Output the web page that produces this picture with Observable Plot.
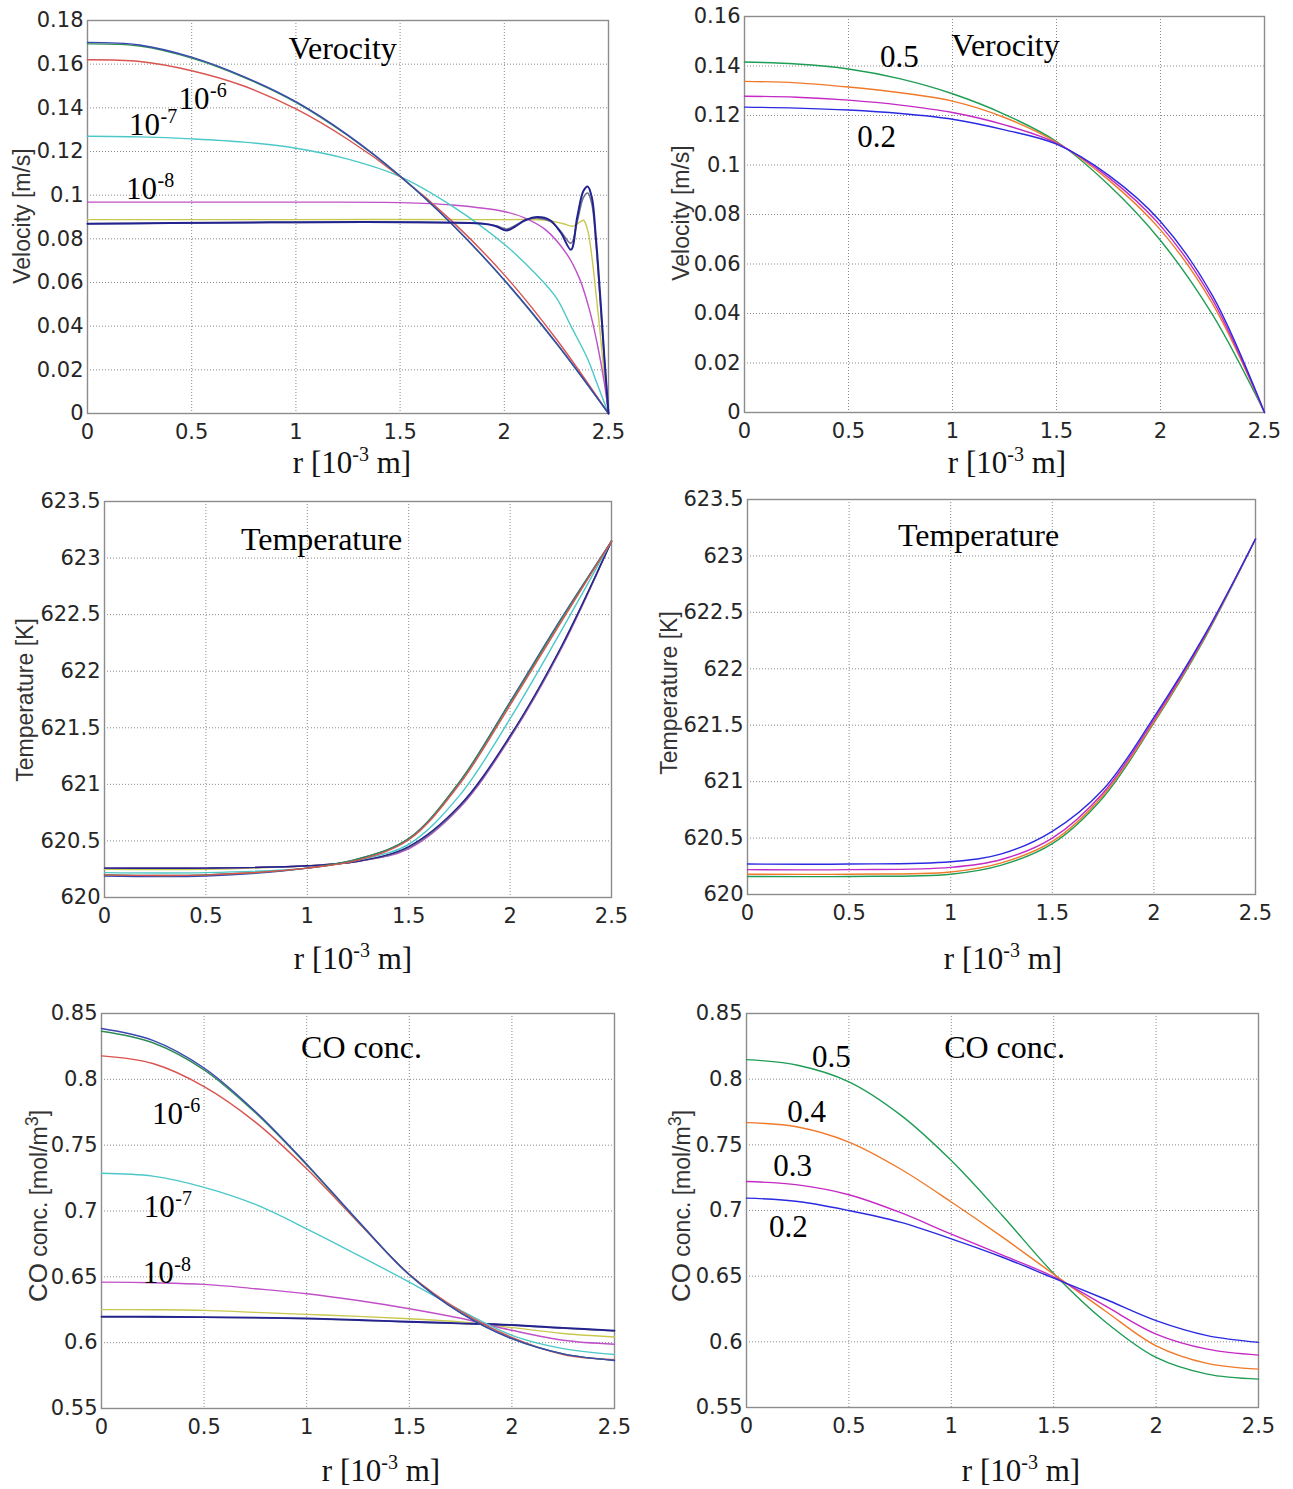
<!DOCTYPE html>
<html>
<head>
<meta charset="utf-8">
<script src="https://cdn.jsdelivr.net/npm/d3@7"></script>
<script src="https://cdn.jsdelivr.net/npm/@observablehq/plot@0.6"></script>
<style>
  body { margin: 0; background: #fff; }
  #root { position: relative; width: 1293px; height: 1489px; overflow: hidden; background: #fff; }
  .xl { position: absolute; font-family: "Liberation Serif", "Times New Roman", serif; font-size: 31px; color: #111;
        transform: translate(-50%, -50%); white-space: nowrap; line-height: 1; }
  .xl sup { font-size: 20px; vertical-align: 0; position: relative; top: -12px; }
  .yl { position: absolute; font-family: "Liberation Sans", Arial, sans-serif; font-size: 23px; color: #333;
        transform: translate(-50%, -50%) rotate(-90deg); white-space: nowrap; line-height: 1; }
  .yl sup { font-size: 18px; vertical-align: 0; position: relative; top: -9px; }
</style>
</head>
<body>
<div id="root"></div>
<script>
// ---------- axis ticks ----------
const xTicks = [0, 0.5, 1, 1.5, 2, 2.5];
const velTicksA = [0, 0.02, 0.04, 0.06, 0.08, 0.1, 0.12, 0.14, 0.16, 0.18];
const velTicksB = [0, 0.02, 0.04, 0.06, 0.08, 0.1, 0.12, 0.14, 0.16];
const tempTicks = [620, 620.5, 621, 621.5, 622, 622.5, 623, 623.5];
const coTicks = [0.55, 0.6, 0.65, 0.7, 0.75, 0.8, 0.85];

// ---------- velocity, permeability series (left) [r, v] ----------
const velA_blue = [[0,0.1700],[0.25,0.1688],[0.5,0.1632],[0.75,0.1543],[1,0.1428],[1.25,0.1275],[1.5,0.1088],[1.75,0.0867],[2,0.0612],[2.25,0.0323],[2.5,0]];
const velA_green = [[0,0.1693],[0.25,0.1683],[0.5,0.1628],[0.75,0.1540],[1,0.1425],[1.25,0.1272],[1.5,0.1087],[1.75,0.0866],[2,0.0610],[2.25,0.0320],[2.5,0]];
const velA_red = [[0,0.1620],[0.25,0.1612],[0.5,0.1570],[0.75,0.1500],[1,0.1395],[1.25,0.1255],[1.5,0.1085],[1.75,0.0880],[2,0.0635],[2.25,0.0340],[2.5,0]];
const velA_cyan = [[0,0.1270],[0.25,0.1267],[0.5,0.1258],[0.75,0.1243],[1,0.1215],[1.25,0.1165],[1.5,0.1085],[1.75,0.0950],[2,0.0775],[2.15,0.0640],[2.25,0.0530],[2.32,0.0400],[2.4,0.0250],[2.44,0.0150],[2.5,0]];
const velA_magenta = [[0,0.0968],[0.5,0.0968],[1,0.0968],[1.5,0.0966],[1.75,0.0955],[2,0.0925],[2.1,0.0895],[2.2,0.0840],[2.3,0.0730],[2.36,0.0620],[2.41,0.0470],[2.45,0.0300],[2.48,0.0140],[2.5,0]];
const velA_yellow = [[0,0.0888],[1,0.0888],[2,0.0888],[2.2,0.0886],[2.28,0.0870],[2.33,0.0858],[2.36,0.0875],[2.38,0.0885],[2.4,0.0840],[2.42,0.0720],[2.44,0.0550],[2.46,0.0370],[2.48,0.0170],[2.5,0]];
const velA_black = [[0,0.0869],[1.9,0.0869],[1.96,0.0860],[2.01,0.0845],[2.05,0.0860],[2.1,0.0885],[2.16,0.0895],[2.22,0.0880],[2.27,0.0835],[2.32,0.0780],[2.35,0.0880],[2.38,0.0990],[2.4,0.1010],[2.42,0.0960],[2.44,0.0780],[2.46,0.0520],[2.48,0.0250],[2.5,0]];
const velA_navy = [[0,0.0869],[1.9,0.0869],[1.96,0.0858],[2.01,0.0838],[2.05,0.0855],[2.1,0.0885],[2.16,0.0900],[2.22,0.0885],[2.27,0.0830],[2.32,0.0750],[2.35,0.0900],[2.38,0.1020],[2.4,0.1040],[2.42,0.0990],[2.44,0.0800],[2.46,0.0540],[2.48,0.0260],[2.5,0]];

// ---------- velocity, porosity series (right) [r, v] ----------
const velB_green = [[0,0.1416],[0.25,0.1408],[0.5,0.1388],[0.75,0.1348],[1,0.1288],[1.25,0.1205],[1.5,0.1095],[1.75,0.0920],[2,0.0695],[2.25,0.0395],[2.5,0]];
const velB_orange = [[0,0.1338],[0.25,0.1332],[0.5,0.1315],[0.75,0.1292],[1,0.1258],[1.25,0.1192],[1.5,0.1092],[1.75,0.0940],[2,0.0738],[2.25,0.0440],[2.5,0]];
const velB_magenta = [[0,0.1278],[0.25,0.1274],[0.5,0.1262],[0.75,0.1242],[1,0.1212],[1.25,0.1162],[1.5,0.1088],[1.75,0.0950],[2,0.0755],[2.25,0.0456],[2.5,0]];
const velB_blue = [[0,0.1234],[0.25,0.1230],[0.5,0.1222],[0.75,0.1208],[1,0.1185],[1.25,0.1142],[1.5,0.1084],[1.75,0.0959],[2,0.0772],[2.25,0.0472],[2.5,0]];

// ---------- temperature ----------
const rTemp = [0, 0.5, 1.0, 1.25, 1.5, 1.75, 2.0, 2.25, 2.5];
const tempA_blue    = [620.19, 620.19, 620.26, 620.34, 620.52, 621.02, 621.73, 622.46, 623.15];
const tempA_green   = [620.20, 620.20, 620.26, 620.34, 620.52, 621.02, 621.72, 622.45, 623.15];
const tempA_red     = [620.20, 620.20, 620.26, 620.33, 620.51, 621.00, 621.70, 622.43, 623.15];
const tempA_cyan    = [620.22, 620.22, 620.26, 620.33, 620.47, 620.90, 621.58, 622.35, 623.15];
const tempA_magenta = [620.26, 620.26, 620.28, 620.32, 620.43, 620.79, 621.41, 622.19, 623.15];
const tempA_yellow  = [620.25, 620.25, 620.28, 620.32, 620.44, 620.80, 621.42, 622.20, 623.15];
const tempA_black   = [620.26, 620.26, 620.28, 620.32, 620.44, 620.80, 621.42, 622.20, 623.15];
const tempA_navy    = [620.26, 620.26, 620.28, 620.32, 620.45, 620.81, 621.43, 622.21, 623.15];
const tempB_blue    = [620.27, 620.27, 620.29, 620.36, 620.56, 620.93, 621.57, 622.30, 623.15];
const tempB_magenta = [620.22, 620.22, 620.24, 620.31, 620.50, 620.90, 621.55, 622.29, 623.15];
const tempB_orange  = [620.18, 620.18, 620.20, 620.28, 620.47, 620.88, 621.53, 622.28, 623.15];
const tempB_green   = [620.16, 620.16, 620.18, 620.26, 620.45, 620.86, 621.52, 622.27, 623.15];

// ---------- CO concentration ----------
const rCO = [0, 0.25, 0.5, 0.75, 1.0, 1.25, 1.5, 1.75, 2.0, 2.25, 2.5];
const coA_blue    = [0.8386, 0.8296, 0.8086, 0.7756, 0.7356, 0.6926, 0.6516, 0.6226, 0.603, 0.5915, 0.5865];
const coA_green   = [0.8365, 0.8278, 0.8072, 0.7746, 0.7350, 0.6922, 0.6516, 0.6226, 0.603, 0.5915, 0.5865];
const coA_red     = [0.8178, 0.8120, 0.7945, 0.7675, 0.7320, 0.6915, 0.6520, 0.624, 0.604, 0.591, 0.587];
const coA_cyan    = [0.7287, 0.7265, 0.718, 0.705, 0.6865, 0.6665, 0.646, 0.6245, 0.6056, 0.5955, 0.591];
const coA_magenta = [0.646, 0.6455, 0.6443, 0.641, 0.6372, 0.632, 0.6258, 0.6185, 0.6094, 0.6018, 0.5988];
const coA_yellow  = [0.6251, 0.625, 0.6245, 0.623, 0.6215, 0.620, 0.6182, 0.6158, 0.6114, 0.607, 0.6043];
const coA_black   = [0.6195, 0.6195, 0.6192, 0.6188, 0.6182, 0.617, 0.6157, 0.6145, 0.6132, 0.611, 0.6089];
const coA_navy    = [0.6198, 0.6197, 0.6194, 0.6190, 0.6184, 0.6172, 0.6159, 0.6147, 0.6134, 0.6112, 0.6092];
const coB_green   = [0.8149, 0.8106, 0.798, 0.773, 0.738, 0.696, 0.652, 0.6155, 0.5881, 0.5754, 0.5716];
const coB_orange  = [0.7669, 0.7636, 0.7521, 0.7318, 0.7065, 0.6797, 0.6515, 0.6237, 0.597, 0.5836, 0.5792];
const coB_magenta = [0.7221, 0.7195, 0.712, 0.6985, 0.682, 0.666, 0.6495, 0.6275, 0.6059, 0.5944, 0.5899];
const coB_blue    = [0.7094, 0.7069, 0.700, 0.6911, 0.6784, 0.6644, 0.6485, 0.6326, 0.6161, 0.6047, 0.5996];

// ---------- annotation texts (anchored in data units) ----------
const notesVelA = [{x: 0.511, y: 0.1438, base: "10", sup: "-6"}, {x: 0.274, y: 0.1319, base: "10", sup: "-7"}, {x: 0.259, y: 0.1026, base: "10", sup: "-8"}];
const notesVelB = [{x: 0.745, y: 0.1438, base: "0.5"}, {x: 0.635, y: 0.1111, base: "0.2"}];
const notesCoA = [{x: 0.3216, y: 0.7733, base: "10", sup: "-6"}, {x: 0.282, y: 0.7027, base: "10", sup: "-7"}, {x: 0.277, y: 0.6525, base: "10", sup: "-8"}];
const notesCoB = [{x: 0.415, y: 0.8165, base: "0.5"}, {x: 0.293, y: 0.7746, base: "0.4"}, {x: 0.225, y: 0.7335, base: "0.3"}, {x: 0.205, y: 0.687, base: "0.2"}];
const titleVelA = [{x: 1.224, y: 0.167, text: "Verocity"}];
const titleVelB = [{x: 1.255, y: 0.1483, text: "Verocity"}];
const titleTempA = [{x: 1.07, y: 623.165, text: "Temperature"}];
const titleTempB = [{x: 1.137, y: 623.18, text: "Temperature"}];
const titleCoA = [{x: 1.267, y: 0.8242, text: "CO conc."}];
const titleCoB = [{x: 1.26, y: 0.824, text: "CO conc."}];

// ---------- colours ----------
const colLeft = {blue: "#3a48b0", green: "#2e8b57", red: "#d9534f", cyan: "#4cc8c8", magenta: "#c050c8", yellow: "#c8c850", black: "#707090", navy: "#23238f"};
const colRight = {green: "#1f9d55", orange: "#f07a2a", magenta: "#c42ac4", blue: "#2a2ae0"};

const zipR = (rs, vs) => rs.map((r, i) => [r, vs[i]]);
const fmt = d => String(+d.toFixed(3));
const tickFont = "DejaVu Sans, Liberation Sans, Arial, sans-serif";

function makePanel(cfg) {
  const [L, R, T, B] = cfg.frame;
  const mL = 92, mR = 40, mT = 22, mB = 46;
  const marks = [
    Plot.gridX({ticks: xTicks, stroke: "#8a8a8a", strokeOpacity: 1, strokeWidth: 1, strokeDasharray: "1,2"}),
    Plot.gridY({ticks: cfg.yTicks, stroke: "#8a8a8a", strokeOpacity: 1, strokeWidth: 1, strokeDasharray: "1,2"}),
    Plot.frame({stroke: "#8c8c8c", strokeWidth: 1.4}),
    Plot.axisX({ticks: xTicks, tickSize: 0, tickPadding: 11, tickFormat: fmt, label: null, fontSize: 21, fontFamily: tickFont, fill: "#262626"}),
    Plot.axisY({ticks: cfg.yTicks, tickSize: 0, tickPadding: 4, tickFormat: fmt, label: null, fontSize: 21, fontFamily: tickFont, fill: "#262626"})
  ];
  for (const s of cfg.lines) {
    marks.push(Plot.line(s.pts, {x: d => d[0], y: d => d[1], stroke: s.color, strokeWidth: s.w || 1.4, curve: "catmull-rom"}));
  }
  marks.push(Plot.text(cfg.titles, {x: "x", y: "y", text: "text", fontFamily: "Liberation Serif, Times New Roman, serif", fontSize: 32, fill: "#000"}));
  marks.push(Plot.text(cfg.notes, {x: "x", y: "y", text: "base", fontFamily: "Liberation Serif, Times New Roman, serif", fontSize: 31, fill: "#000"}));
  marks.push(Plot.text(cfg.notes.filter(d => d.sup), {x: "x", y: "y", text: "sup", dx: 16, dy: -9, textAnchor: "start", fontFamily: "Liberation Serif, Times New Roman, serif", fontSize: 20, fill: "#000"}));
  const chart = Plot.plot({
    width: R - L + mL + mR,
    height: B - T + mT + mB,
    marginLeft: mL, marginRight: mR, marginTop: mT, marginBottom: mB,
    style: {fontFamily: tickFont, fontSize: "21px", color: "#222", background: "transparent", overflow: "visible"},
    x: {domain: [0, 2.5]},
    y: {domain: cfg.yDomain},
    marks
  });
  chart.style.position = "absolute";
  chart.style.left = (L - mL) + "px";
  chart.style.top = (T - mT) + "px";
  document.getElementById("root").appendChild(chart);

  const xl = document.createElement("div");
  xl.className = "xl";
  xl.innerHTML = "r [10<sup>-3</sup> m]";
  xl.style.left = cfg.xLabel[0] + "px";
  xl.style.top = cfg.xLabel[1] + "px";
  document.getElementById("root").appendChild(xl);

  const yl = document.createElement("div");
  yl.className = "yl";
  yl.innerHTML = cfg.yLabel;
  yl.style.left = cfg.yLabelPos[0] + "px";
  yl.style.top = cfg.yLabelPos[1] + "px";
  document.getElementById("root").appendChild(yl);
}

const leftVel = [
  {pts: velA_yellow, color: colLeft.yellow},
  {pts: velA_magenta, color: colLeft.magenta},
  {pts: velA_cyan, color: colLeft.cyan},
  {pts: velA_red, color: colLeft.red},
  {pts: velA_green, color: colLeft.green},
  {pts: velA_blue, color: colLeft.blue},
  {pts: velA_black, color: colLeft.black, w: 1.6},
  {pts: velA_navy, color: colLeft.navy, w: 2}
];
const rightVel = [
  {pts: velB_green, color: colRight.green},
  {pts: velB_orange, color: colRight.orange},
  {pts: velB_magenta, color: colRight.magenta},
  {pts: velB_blue, color: colRight.blue}
];
const leftTemp = [
  {pts: zipR(rTemp, tempA_yellow), color: colLeft.yellow},
  {pts: zipR(rTemp, tempA_magenta), color: colLeft.magenta},
  {pts: zipR(rTemp, tempA_black), color: colLeft.black},
  {pts: zipR(rTemp, tempA_navy), color: colLeft.navy},
  {pts: zipR(rTemp, tempA_cyan), color: colLeft.cyan},
  {pts: zipR(rTemp, tempA_blue), color: colLeft.blue},
  {pts: zipR(rTemp, tempA_green), color: colLeft.green},
  {pts: zipR(rTemp, tempA_red), color: colLeft.red}
];
const rightTemp = [
  {pts: zipR(rTemp, tempB_green), color: colRight.green},
  {pts: zipR(rTemp, tempB_orange), color: colRight.orange},
  {pts: zipR(rTemp, tempB_magenta), color: colRight.magenta},
  {pts: zipR(rTemp, tempB_blue), color: colRight.blue}
];
const leftCO = [
  {pts: zipR(rCO, coA_yellow), color: colLeft.yellow},
  {pts: zipR(rCO, coA_black), color: colLeft.black},
  {pts: zipR(rCO, coA_navy), color: colLeft.navy, w: 1.8},
  {pts: zipR(rCO, coA_magenta), color: colLeft.magenta},
  {pts: zipR(rCO, coA_cyan), color: colLeft.cyan},
  {pts: zipR(rCO, coA_red), color: colLeft.red},
  {pts: zipR(rCO, coA_green), color: colLeft.green},
  {pts: zipR(rCO, coA_blue), color: colLeft.blue}
];
const rightCO = [
  {pts: zipR(rCO, coB_green), color: colRight.green},
  {pts: zipR(rCO, coB_orange), color: colRight.orange},
  {pts: zipR(rCO, coB_magenta), color: colRight.magenta},
  {pts: zipR(rCO, coB_blue), color: colRight.blue}
];

makePanel({frame: [87, 608, 20, 413], yDomain: [0, 0.18], yTicks: velTicksA, lines: leftVel, titles: titleVelA, notes: notesVelA,
  xLabel: [352, 462], yLabel: "Velocity [m/s]", yLabelPos: [22, 216]});
makePanel({frame: [744, 1264, 16, 412], yDomain: [0, 0.16], yTicks: velTicksB, lines: rightVel, titles: titleVelB, notes: notesVelB,
  xLabel: [1007, 462], yLabel: "Velocity [m/s]", yLabelPos: [681, 213]});
makePanel({frame: [104, 611, 501, 897], yDomain: [620, 623.5], yTicks: tempTicks, lines: leftTemp, titles: titleTempA, notes: [],
  xLabel: [353, 958], yLabel: "Temperature [K]", yLabelPos: [25, 700]});
makePanel({frame: [747, 1255, 499, 894], yDomain: [620, 623.5], yTicks: tempTicks, lines: rightTemp, titles: titleTempB, notes: [],
  xLabel: [1003, 958], yLabel: "Temperature [K]", yLabelPos: [669, 693]});
makePanel({frame: [101, 614, 1013, 1408], yDomain: [0.55, 0.85], yTicks: coTicks, lines: leftCO, titles: titleCoA, notes: notesCoA,
  xLabel: [381, 1470], yLabel: '<span style="font-size:26px">CO</span> conc. [mol/m<sup>3</sup>]', yLabelPos: [38, 1206]});
makePanel({frame: [746, 1258, 1013, 1407], yDomain: [0.55, 0.85], yTicks: coTicks, lines: rightCO, titles: titleCoB, notes: notesCoB,
  xLabel: [1021, 1470], yLabel: '<span style="font-size:26px">CO</span> conc. [mol/m<sup>3</sup>]', yLabelPos: [681, 1206]});
</script>
</body>
</html>
